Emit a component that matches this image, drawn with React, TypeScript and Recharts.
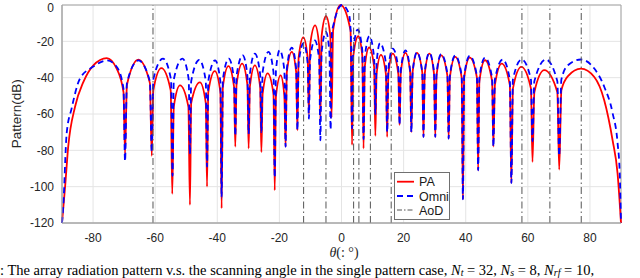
import {
  LineChart,
  Line,
  XAxis,
  YAxis,
  CartesianGrid,
  ReferenceLine,
  ReferenceArea,
  Legend,
} from "recharts";

// theta (deg) / pattern (dB)
const PA_PATTERN: [number, number][] = [
  [-90, -120], [-89, -100], [-88, -78], [-85.8, -56], [-83.1, -42.3], [-79.9, -33.2],
  [-75.6, -29.2], [-72.4, -35], [-70.2, -48], [-69.7, -82],
  [-69.1, -44], [-65.4, -30.1], [-61.7, -43], [-61.1, -83],
  [-60.6, -47], [-58.0, -34.8], [-55.0, -47], [-54.5, -104],
  [-54.0, -56], [-52.0, -44.2], [-49.3, -56], [-48.8, -110],
  [-48.4, -54], [-45.6, -42.6], [-43.7, -54], [-43.3, -100],
  [-42.9, -48], [-40.8, -36.4], [-39.0, -48], [-38.6, -112],
  [-38.2, -45], [-36.4, -33.6], [-34.6, -45], [-34.2, -78],
  [-33.8, -44], [-32.0, -32.3], [-30.3, -44], [-29.9, -79],
  [-29.5, -45], [-27.9, -33.2], [-26.2, -45], [-25.8, -81],
  [-25.4, -49], [-23.8, -37.6], [-21.9, -49], [-21.5, -102],
  [-21.1, -50], [-19.6, -38.7], [-18.4, -50], [-18.0, -78],
  [-17.6, -37], [-16.0, -25.8], [-14.6, -37], [-14.2, -69],
  [-13.8, -29], [-12.3, -17.8], [-10.9, -29], [-10.5, -60],
  [-10.1, -22], [-8.5, -11.2], [-7.2, -22], [-6.8, -64],
  [-6.4, -17], [-5.0, -6.2], [-3.6, -17], [-3.2, -62],
  [-2.7, -14], [-0.3, 0], [2.9, -14], [3.4, -77],
  [3.8, -28], [5.4, -17.2], [6.7, -28], [7.1, -79],
  [7.5, -34], [8.9, -23.4], [10.5, -34], [10.9, -72],
  [11.3, -38], [12.7, -27.5], [14.3, -38], [14.7, -72.6],
  [15.1, -38], [16.5, -26.8], [18.3, -38], [18.7, -66],
  [19.1, -37], [20.6, -26.4], [22.1, -37], [22.5, -70],
  [22.9, -37], [24.3, -26.4], [26.0, -37], [26.4, -72.6],
  [26.8, -38], [28.3, -26.8], [29.8, -38], [30.2, -72.6],
  [30.6, -39], [32.1, -27.7], [34.1, -39], [34.5, -73.5],
  [34.9, -40], [36.6, -28.6], [38.7, -40], [39.1, -107],
  [39.5, -40], [41.3, -29], [43.6, -40], [44.0, -91],
  [44.4, -42], [46.2, -30.4], [48.5, -42], [48.9, -78],
  [49.4, -44], [51.6, -32.3], [54.2, -44], [54.7, -98],
  [55.2, -46], [57.9, -34.1], [61.0, -46], [61.5, -86.4],
  [62.1, -48], [65.3, -35.9], [69.5, -48], [70.1, -90.6],
  [70.8, -47], [73.0, -39], [77.1, -35], [81.4, -39.6], [84.6, -52.4],
  [87.3, -74.5], [88.9, -92.8], [90, -120],
];

const OMNI_PATTERN: [number, number][] = [
  [-90, -120], [-89.6, -111], [-88.5, -70.7], [-86.9, -56.9], [-84.2, -40.5], [-79.9, -33.9],
  [-75.5, -30.5], [-72.4, -34], [-70.2, -46], [-69.7, -86],
  [-69.1, -43], [-65.4, -30.5], [-61.7, -42], [-61.1, -81],
  [-60.6, -41], [-57.5, -29.5], [-54.9, -41], [-54.4, -94],
  [-54.0, -41], [-51.2, -29.5], [-49.2, -41], [-48.8, -82],
  [-48.4, -42], [-45.8, -30.2], [-43.7, -42], [-43.3, -89],
  [-42.9, -42], [-40.7, -30.5], [-39.0, -42], [-38.6, -106],
  [-38.2, -41], [-36.3, -29.5], [-34.6, -41], [-34.2, -72],
  [-33.8, -39], [-31.8, -27.7], [-30.3, -39], [-29.9, -71],
  [-29.5, -38], [-27.9, -26.8], [-26.2, -38], [-25.8, -70],
  [-25.4, -37], [-23.5, -25.8], [-21.9, -37], [-21.5, -95],
  [-21.1, -36], [-19.9, -24.9], [-18.4, -36], [-18.0, -78],
  [-17.6, -35], [-16.0, -23.5], [-14.6, -35], [-14.2, -69],
  [-13.8, -32], [-12.2, -21], [-10.9, -32], [-10.5, -62.6],
  [-10.1, -30], [-8.6, -19.5], [-7.2, -30], [-6.8, -74.5],
  [-6.4, -26], [-5.0, -14.8], [-3.9, -26], [-3.5, -68.6],
  [-3.1, -16], [-2.5, -10.3], [0.2, 0], [2.4, -5], [3.0, -16], [3.4, -68],
  [3.8, -25], [5.2, -13.6], [6.7, -25], [7.1, -74],
  [7.5, -29], [9.0, -17.2], [10.5, -29], [10.9, -60],
  [11.3, -32], [12.4, -21], [14.3, -32], [14.7, -70],
  [15.1, -35], [16.5, -24], [18.3, -35], [18.7, -66],
  [19.1, -36], [20.6, -25], [22.1, -36], [22.5, -70],
  [22.9, -37], [24.3, -26], [26.0, -37], [26.4, -72.6],
  [26.8, -37], [28.3, -26.3], [29.8, -37], [30.2, -72.6],
  [30.6, -38], [32.1, -27], [34.1, -38], [34.5, -73.5],
  [34.9, -39], [36.6, -27.8], [38.7, -39], [39.1, -107],
  [39.5, -39], [41.3, -28], [43.6, -39], [44.0, -91],
  [44.4, -40], [46.2, -29], [48.5, -40], [48.9, -78],
  [49.4, -41], [51.9, -30], [54.2, -41], [54.7, -98],
  [55.2, -41], [58.0, -30], [61.0, -41], [61.5, -75],
  [62.1, -42], [65.8, -30], [69.5, -42], [70.1, -83],
  [70.8, -41], [73.0, -33], [77.1, -30], [81.4, -35], [84.6, -45],
  [87.3, -59.5], [88.9, -76], [89.6, -93], [90, -120],
];

// angles of departure (dash-dot markers)
const AOD = [-60.7, -12.2, -5.0, 3.9, 5.6, 9.3, 16.0, 58.1, 67.1, 77.2];

const X_TICKS = [-80, -60, -40, -20, 0, 20, 40, 60, 80];
const Y_TICKS = [-120, -100, -80, -60, -40, -20, 0];

const paData = PA_PATTERN.map(([theta, db]) => ({ theta, db }));
const omniData = OMNI_PATTERN.map(([theta, db]) => ({ theta, db }));

const SANS = "'Liberation Sans', Arial, Helvetica, sans-serif";
const SERIF = "'Liberation Serif', 'Times New Roman', serif";
const AOD_DASH = "7 3 1.5 3";

function PatternLegend() {
  const textStyle = { fontFamily: SANS, fontSize: 12.5, fill: "#1a1a1a" };
  return (
    <svg width={56} height={48} style={{ display: "block" }}>
      <rect x={0.5} y={0.5} width={55} height={47} fill="#fff" stroke="#707070" />
      <line x1={3} x2={20} y1={9.7} y2={9.7} stroke="#ff0000" strokeWidth={1.8} />
      <text x={25} y={14.2} {...textStyle}>PA</text>
      <line x1={3} x2={20} y1={24} y2={24} stroke="#0000ff" strokeWidth={1.8} strokeDasharray="6 4" />
      <text x={25} y={28.5} {...textStyle}>Omni</text>
      <line x1={3} x2={20} y1={38} y2={38} stroke="#555" strokeWidth={1} strokeDasharray="5 2 1.5 2" />
      <text x={25} y={42.5} {...textStyle}>AoD</text>
    </svg>
  );
}

export default function App() {
  return (
    <div
      style={{
        position: "fixed",
        left: 0,
        top: 0,
        width: 640,
        height: 278,
        overflow: "hidden",
        background: "#fff",
      }}
    >
      <LineChart
        width={640}
        height={278}
        margin={{ top: 5, right: 19, bottom: 25, left: 0 }}
      >
        <CartesianGrid stroke="#e4e4e4" strokeWidth={1} />
        <XAxis
          dataKey="theta"
          type="number"
          domain={[-90, 90]}
          ticks={X_TICKS}
          allowDuplicatedCategory={false}
          height={30}
          tickLine={false}
          tickMargin={4}
          axisLine={{ stroke: "#a6a6a6" }}
          tick={{ fontFamily: SANS, fontSize: 12, fill: "#262626" }}
        />
        <YAxis
          type="number"
          domain={[-120, 0]}
          ticks={Y_TICKS}
          width={62}
          tickLine={false}
          axisLine={{ stroke: "#a6a6a6" }}
          tick={{ fontFamily: SANS, fontSize: 12, fill: "#262626" }}
        />
        <ReferenceArea
          x1={-90}
          x2={90}
          y1={-120}
          y2={0}
          fill="none"
          stroke="#a6a6a6"
          strokeWidth={1}
        />
        <Line
          data={paData}
          dataKey="db"
          name="PA"
          type="monotone"
          stroke="#ff0000"
          strokeWidth={1.8}
          dot={false}
          activeDot={false}
          isAnimationActive={false}
        />
        <Line
          data={omniData}
          dataKey="db"
          name="Omni"
          type="monotone"
          stroke="#0000ff"
          strokeWidth={1.8}
          strokeDasharray="6 4"
          dot={false}
          activeDot={false}
          isAnimationActive={false}
        />
        {AOD.map((a) => (
          <ReferenceLine
            key={a}
            x={a}
            stroke="#555"
            strokeWidth={1}
            strokeDasharray={AOD_DASH}
          />
        ))}
        <Legend
          layout="horizontal"
          verticalAlign="middle"
          align="center"
          wrapperStyle={{ left: 394, top: 172, width: 56, height: 48 }}
          content={() => <PatternLegend />}
        />
      </LineChart>
      <svg
        width={640}
        height={278}
        style={{ position: "absolute", left: 0, top: 0, pointerEvents: "none" }}
      >
        <text
          transform="translate(21 113.7) rotate(-90)"
          textAnchor="middle"
          fontFamily={SANS}
          fontSize={13.5}
          fill="#262626"
        >
          Pattern(dB)
        </text>
        <text x={344} y={257} textAnchor="middle" fontFamily={SERIF} fontSize={14} fill="#262626">
          <tspan fontStyle="italic">θ</tspan>(: °)
        </text>
        <text x={0} y={274.5} fontFamily={SERIF} fontSize={14.5} fill="#000">
          : The array radiation pattern v.s. the scanning angle in the single pattern case,{" "}
          <tspan fontStyle="italic">N</tspan>
          <tspan fontSize={10} dy={1.5} fontStyle="italic">t</tspan>
          <tspan dy={-1.5}> = 32, </tspan>
          <tspan fontStyle="italic">N</tspan>
          <tspan fontSize={10} dy={1.5} fontStyle="italic">s</tspan>
          <tspan dy={-1.5}> = 8, </tspan>
          <tspan fontStyle="italic">N</tspan>
          <tspan fontSize={10} dy={1.5} fontStyle="italic">rf</tspan>
          <tspan dy={-1.5}> = 10,</tspan>
        </text>
      </svg>
    </div>
  );
}
